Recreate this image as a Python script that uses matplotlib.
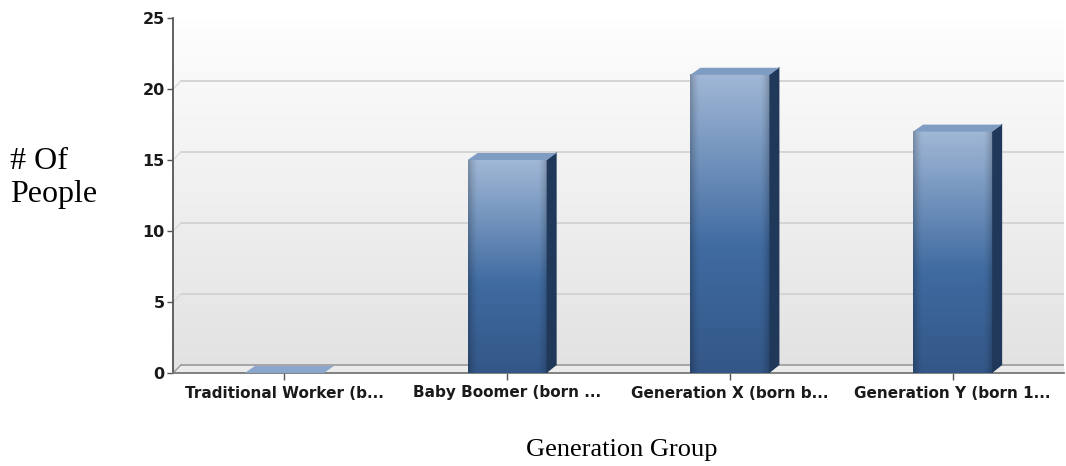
import numpy as np
import matplotlib
matplotlib.use("Agg")
import matplotlib.pyplot as plt
from matplotlib.patches import Polygon
from matplotlib.transforms import IdentityTransform

# ---- data ----
categories = ["Traditional Worker (b...", "Baby Boomer (born ...",
              "Generation X (born b...", "Generation Y (born 1..."]
values = [0, 15, 21, 17]
yticks = [0, 5, 10, 15, 20, 25]
xlabel = "Generation Group"
ylabel = "# Of\nPeople"

W, H = 1066, 466
fig = plt.figure(figsize=(W / 100, H / 100), dpi=100)
ax = fig.add_axes([173 / W, (H - 373) / H, (1064 - 173) / W, (373 - 18) / H])
ax.set_xlim(-0.5, len(categories) - 0.5)
ax.set_ylim(0, 25)

DX, DY = 8, 8  # 3D depth offset in pixels
bw = 0.355

# background wall gradient
grad = np.linspace(0.885, 0.995, 256)[:, None]
bg = np.dstack([grad, grad, grad]).repeat(2, axis=1)
ax.imshow(bg, extent=(0, 1, 0, 1), transform=ax.transAxes, aspect="auto",
          origin="lower", zorder=0, interpolation="bilinear")

fig.canvas.draw()
T = ax.transData

def disp(x, y):
    return T.transform((x, y))

# gridlines on back wall + left wall diagonals
for t in yticks[1:-1]:
    x0, y0 = disp(-0.5, t)
    x1, _ = disp(len(categories) - 0.5, t)
    ax.add_line(plt.Line2D([x0 + DX, x1 + DX], [y0 + DY, y0 + DY], transform=IdentityTransform(),
                           color="#cfcfcf", lw=1.2, zorder=1, clip_on=True))
    ax.add_line(plt.Line2D([x0, x0 + DX], [y0, y0 + DY], transform=IdentityTransform(),
                           color="#dadada", lw=1.0, zorder=1))

# floor
fx0, fy0 = disp(-0.5, 0)
fx1, _ = disp(len(categories) - 0.5, 0)
floor = Polygon([[fx0, fy0], [fx1, fy0], [fx1, fy0 + DY], [fx0 + DX, fy0 + DY]],
                closed=True, transform=IdentityTransform(), facecolor="#ebebeb",
                edgecolor="none", zorder=1.5, clip_on=False)
ax.add_patch(floor)
ax.add_line(plt.Line2D([fx0 + DX, fx1], [fy0 + DY, fy0 + DY], transform=IdentityTransform(),
                       color="#9a9a9a", lw=1.2, zorder=1.6))
ax.add_line(plt.Line2D([fx0, fx0 + DX], [fy0, fy0 + DY], transform=IdentityTransform(),
                       color="#9a9a9a", lw=1.0, zorder=1.6))

# bar gradient texture
top_c = np.array([0.63, 0.72, 0.84])
mid_c = np.array([0.25, 0.42, 0.63])
bot_c = np.array([0.20, 0.34, 0.53])
n = 200
s = np.linspace(0, 1, n)  # 0 bottom -> 1 top
cols = np.zeros((n, 3))
knee = 0.42
for k, v in enumerate(s):
    if v > knee:
        f = (v - knee) / (1 - knee)
        cols[k] = mid_c * (1 - f) + top_c * f
    else:
        f = v / knee
        cols[k] = bot_c * (1 - f) + mid_c * f
hx = np.linspace(0, 1, 60)
edge = 1 - 0.22 * (np.clip(1 - hx / 0.12, 0, 1) ** 1.5 + np.clip(1 - (1 - hx) / 0.12, 0, 1) ** 1.5)
tex = cols[:, None, :] * edge[None, :, None]

for i, v in enumerate(values):
    xl, xr = i - bw / 2, i + bw / 2
    if v > 0:
        ax.imshow(tex, extent=(xl, xr, 0, v), origin="lower", aspect="auto",
                  zorder=3, interpolation="bilinear")
        (pxl, py0), (pxr, pyv) = disp(xl, 0), disp(xr, v)
        side = Polygon([[pxr, py0], [pxr + DX + 2, py0 + DY], [pxr + DX + 2, pyv + DY], [pxr, pyv]],
                       closed=True, transform=IdentityTransform(), facecolor="#20395a",
                       edgecolor="none", zorder=3, clip_on=False)
        ax.add_patch(side)
    else:
        (pxl, pyv), (pxr, _) = disp(xl, v), disp(xr, v)
    topf = Polygon([[pxl, pyv], [pxl + DX + 2, pyv + DY - 1], [pxr + DX + 2, pyv + DY - 1], [pxr, pyv]],
                   closed=True, transform=IdentityTransform(),
                   facecolor="#8aa7cb" if v == 0 else "#7f9cc2",
                   edgecolor="none", zorder=3.2, clip_on=False)
    ax.add_patch(topf)

ax.set_xlim(-0.5, len(categories) - 0.5)
ax.set_ylim(0, 25)

# axes styling
for sp in ["top", "right"]:
    ax.spines[sp].set_visible(False)
ax.spines["left"].set_color("#555555")
ax.spines["left"].set_linewidth(1.3)
ax.spines["bottom"].set_color("#777777")
ax.spines["bottom"].set_linewidth(1.3)
ax.set_yticks(yticks)
ax.set_yticklabels([str(t) for t in yticks], fontsize=11.5, fontweight="bold",
                   family="DejaVu Sans", color="#1a1a1a")
ax.set_xticks(range(len(categories)))
ax.set_xticklabels(categories, fontsize=11, fontweight="bold",
                   family="DejaVu Sans", color="#1a1a1a")
ax.tick_params(axis="y", length=4, width=1, color="#555555", pad=2)
ax.tick_params(axis="x", length=5, width=1, color="#555555", pad=4)

fig.text(10 / W, 1 - 178 / H, ylabel, family="Liberation Serif", fontsize=23,
         ha="left", va="center", linespacing=1.2)
fig.text(622 / W, 1 - 450 / H, xlabel, family="Liberation Serif", fontsize=19,
         ha="center", va="center")

fig.savefig("out.png", dpi=100)
